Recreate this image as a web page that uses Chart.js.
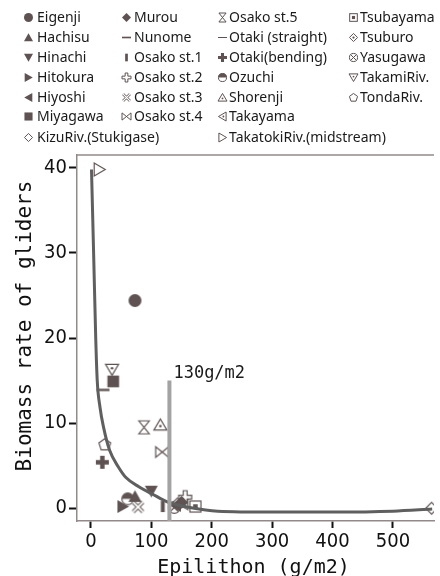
<!DOCTYPE html>
<html>
<head>
<meta charset="utf-8">
<script src="https://cdn.jsdelivr.net/npm/chart.js@4/dist/chart.umd.min.js"></script>
<style>
  html, body { margin: 0; padding: 0; background: #fff; overflow: hidden; }
  #wrap { position: relative; width: 440px; height: 576px; }
  #chart { position: absolute; left: 0; top: 0; }
  .lg { position: absolute; height: 20px; line-height: 20px; font: 14px 'Noto Sans', sans-serif; color: #1a1a1a; white-space: nowrap; }
  .lgi { position: absolute; }
</style>
</head>
<body>
<div id="wrap">
  <canvas id="chart" width="440" height="576"></canvas>
  <div id="legend"></div>
</div>
<script>
var INK = '#5e5252';

// sites, in legend order
var siteNames = ['Eigenji', 'Hachisu', 'Hinachi', 'Hitokura', 'Hiyoshi', 'Miyagawa', 'KizuRiv.(Stukigase)',
    'Murou', 'Nunome', 'Osako st.1', 'Osako st.2', 'Osako st.3', 'Osako st.4',
    'Osako st.5', 'Otaki (straight)', 'Otaki(bending)', 'Ozuchi', 'Shorenji', 'Takayama', 'TakatokiRiv.(midstream)',
    'Tsubayama', 'Tsuburo', 'Yasugawa', 'TakamiRiv.', 'TondaRiv.'];
var siteMarkers = ['circle', 'triUp', 'triDown', 'triRight', 'triLeft', 'square', 'diamondOpen',
    'diamond', 'dash', 'bar', 'plusOpen', 'xOpen', 'bowtie',
    'hourglass', 'line', 'plusFilled', 'halfCircle', 'triUpDot', 'triLeftDot', 'triRightOpen',
    'squareDot', 'diamondDot', 'circleX', 'triDownDot', 'pentagon'];
var epilithon = [73, 73, 100, 53, 140, 37, 564,
    150, 20, 119, 156, 78, 118,
    88, 146, 19, 61, 115, 152, 14,
    173, 143, 138, 35, 23];
var gliderRate = [24.4, 1.4, 2.0, 0.2, 0.35, 14.9, 0.0,
    0.7, 13.9, 0.2, 1.3, 0.15, 6.6,
    9.5, 0.3, 5.4, 1.1, 9.8, 0.6, 39.8,
    0.2, 0.5, 0.1, 16.3, 7.5];

// fitted curve
var curveX = [1, 4.5, 8, 10.5, 15, 21, 31, 45, 58, 80, 101, 128, 166, 210, 300, 400, 500, 565];
var curveY = [39.8, 30, 20, 15, 11.9, 9.5, 6.8, 4.9, 3.6, 2.5, 1.7, 0.7, 0.05, -0.35, -0.45, -0.45, -0.35, -0.1];

var thresholdX = 130;
var thresholdTop = 15;
var thresholdLabel = '130g/m2';

var xTicks = [0, 100, 200, 300, 400, 500];
var yTicks = [0, 10, 20, 30, 40];
var xTitle = 'Epilithon (g/m2)';
var yTitle = 'Biomass rate of gliders';

function makeIcon(kind, s) {
    var W = Math.ceil(s) + 4;
    var c = document.createElement('canvas');
    c.width = W; c.height = W;
    var g = c.getContext('2d');
    var m = W / 2, r = s / 2;
    g.fillStyle = INK; g.strokeStyle = INK;
    g.lineWidth = Math.max(1, s / 11);
    function poly(pts, fill, stroke) {
        g.beginPath();
        pts.forEach(function (p, i) {
            if (i) g.lineTo(m + p[0] * r, m + p[1] * r); else g.moveTo(m + p[0] * r, m + p[1] * r);
        });
        g.closePath();
        if (fill) { g.fillStyle = fill; g.fill(); }
        if (stroke) g.stroke();
    }
    function dot(rr) { g.beginPath(); g.arc(m, m, rr, 0, 2 * Math.PI); g.fillStyle = INK; g.fill(); }
    var plus = function (w) {
        return [[-w, -1], [w, -1], [w, -w], [1, -w], [1, w], [w, w], [w, 1], [-w, 1], [-w, w], [-1, w], [-1, -w], [-w, -w]];
    };
    switch (kind) {
        case 'circle': g.beginPath(); g.arc(m, m, r, 0, 2 * Math.PI); g.fill(); break;
        case 'triUp': poly([[-1, 0.85], [1, 0.85], [0, -0.95]], INK); break;
        case 'triDown': poly([[-1, -0.85], [1, -0.85], [0, 0.95]], INK); break;
        case 'triRight': poly([[-0.85, -1], [-0.85, 1], [0.95, 0]], INK); break;
        case 'triLeft': poly([[0.85, -1], [0.85, 1], [-0.95, 0]], INK); break;
        case 'square': g.fillRect(m - r * 0.9, m - r * 0.9, r * 1.8, r * 1.8); break;
        case 'diamond': poly([[0, -1], [1, 0], [0, 1], [-1, 0]], INK); break;
        case 'diamondOpen': poly([[0, -0.9], [0.9, 0], [0, 0.9], [-0.9, 0]], '#fff', true); break;
        case 'diamondDot': poly([[0, -0.9], [0.9, 0], [0, 0.9], [-0.9, 0]], '#fff', true); dot(r * 0.25); break;
        case 'dash': g.fillRect(m - r, m - r * 0.18, 2 * r, r * 0.36); break;
        case 'bar': g.fillRect(m - r * 0.3, m - r * 0.85, r * 0.6, r * 1.7); break;
        case 'plusOpen': poly(plus(0.3), '#fff', true); break;
        case 'plusFilled': poly(plus(0.34), INK); break;
        case 'xOpen':
            g.lineWidth = r * 0.6;
            g.beginPath(); g.moveTo(m - r * 0.75, m - r * 0.75); g.lineTo(m + r * 0.75, m + r * 0.75);
            g.moveTo(m + r * 0.75, m - r * 0.75); g.lineTo(m - r * 0.75, m + r * 0.75); g.stroke();
            g.lineWidth = r * 0.3; g.strokeStyle = '#fff'; g.stroke();
            break;
        case 'bowtie': poly([[-1, -0.8], [1, 0.8], [1, -0.8], [-1, 0.8]], '#fff', true); break;
        case 'hourglass': poly([[-0.8, -1], [0.8, -1], [-0.8, 1], [0.8, 1]], '#fff', true); break;
        case 'line':
            g.beginPath(); g.moveTo(m - r, m); g.lineTo(m + r, m); g.stroke(); break;
        case 'halfCircle':
            g.beginPath(); g.arc(m, m, r * 0.9, 0, 2 * Math.PI); g.fillStyle = '#fff'; g.fill(); g.stroke();
            g.beginPath(); g.arc(m, m, r * 0.9, Math.PI, 2 * Math.PI); g.closePath(); g.fillStyle = INK; g.fill();
            break;
        case 'triUpDot': poly([[-1, 0.8], [1, 0.8], [0, -0.9]], '#fff', true); g.translate(0, r * 0.2); dot(r * 0.2); break;
        case 'triDownDot': poly([[-1, -0.8], [1, -0.8], [0, 0.9]], '#fff', true); g.translate(0, -r * 0.2); dot(r * 0.2); break;
        case 'triLeftDot': poly([[0.8, -1], [0.8, 1], [-0.9, 0]], '#fff', true); g.translate(r * 0.2, 0); dot(r * 0.2); break;
        case 'triRightOpen': poly([[-0.8, -1], [-0.8, 1], [0.9, 0]], '#fff', true); break;
        case 'squareDot':
            g.fillStyle = '#fff'; g.fillRect(m - r * 0.85, m - r * 0.85, r * 1.7, r * 1.7);
            g.strokeRect(m - r * 0.85, m - r * 0.85, r * 1.7, r * 1.7);
            g.fillStyle = INK; g.fillRect(m - r * 0.35, m - r * 0.35, r * 0.7, r * 0.7);
            break;
        case 'circleX':
            g.beginPath(); g.arc(m, m, r * 0.9, 0, 2 * Math.PI); g.fillStyle = '#fff'; g.fill(); g.stroke();
            var k = r * 0.62;
            g.beginPath(); g.moveTo(m - k, m - k); g.lineTo(m + k, m + k); g.moveTo(m + k, m - k); g.lineTo(m - k, m + k); g.stroke();
            break;
        case 'pentagon':
            var pts = [];
            for (var i = 0; i < 5; i++) {
                var a = -Math.PI / 2 + i * 2 * Math.PI / 5;
                pts.push([Math.cos(a) * 0.95, Math.sin(a) * 0.95 + 0.05]);
            }
            poly(pts, '#fff', true);
            break;
    }
    return c;
}

// legend, drawn as html
var colIcon = [28, 126, 222, 353];
var colText = [37, 134, 229, 360];
var rowY = [17, 37, 57, 77, 97, 116, 137];
var slots = [[0, 0], [0, 1], [0, 2], [0, 3], [0, 4], [0, 5], [0, 6],
    [1, 0], [1, 1], [1, 2], [1, 3], [1, 4], [1, 5],
    [2, 0], [2, 1], [2, 2], [2, 3], [2, 4], [2, 5], [2, 6],
    [3, 0], [3, 1], [3, 2], [3, 3], [3, 4]];
var legendEl = document.getElementById('legend');
siteNames.forEach(function (name, i) {
    var col = slots[i][0], row = slots[i][1];
    var ic = makeIcon(siteMarkers[i], 9);
    ic.className = 'lgi';
    ic.style.left = (colIcon[col] - ic.width / 2) + 'px';
    ic.style.top = (rowY[row] - ic.height / 2) + 'px';
    legendEl.appendChild(ic);
    var t = document.createElement('div');
    t.className = 'lg';
    t.textContent = name;
    t.style.left = colText[col] + 'px';
    t.style.top = (rowY[row] - 10) + 'px';
    legendEl.appendChild(t);
});

var datasets = [];
siteNames.forEach(function (name, i) {
    datasets.push({
        label: name,
        data: [{ x: epilithon[i], y: gliderRate[i] }],
        pointStyle: makeIcon(siteMarkers[i], 13),
        pointRadius: 5,
        order: 3
    });
});
datasets.push({
    label: 'fit',
    type: 'line',
    data: curveX.map(function (x, i) { return { x: x, y: curveY[i] }; }),
    borderColor: '#5f5f5f',
    borderWidth: 3,
    pointRadius: 0,
    cubicInterpolationMode: 'monotone',
    fill: false,
    order: 2
});
datasets.push({
    label: 'threshold',
    type: 'line',
    data: [{ x: thresholdX, y: -1.5 }, { x: thresholdX, y: thresholdTop }],
    borderColor: '#a3a3a3',
    borderWidth: 4,
    pointRadius: 0,
    order: 1
});

var frame = {
    id: 'frame',
    afterDraw: function (chart) {
        var a = chart.chartArea, ctx = chart.ctx;
        ctx.save();
        ctx.strokeStyle = '#928a8a';
        ctx.lineWidth = 1.5;
        ctx.beginPath();
        ctx.moveTo(a.left, a.top); ctx.lineTo(a.right, a.top);
        ctx.stroke();
        var xs = chart.scales.x, ys = chart.scales.y;
        ctx.fillStyle = '#1a1a1a';
        ctx.font = "17px 'DejaVu Sans Mono', monospace";
        ctx.textBaseline = 'alphabetic';
        ctx.fillText(thresholdLabel, xs.getPixelForValue(thresholdX) + 4, ys.getPixelForValue(thresholdTop) - 3);
        // axis titles
        ctx.fillStyle = '#111';
        ctx.textAlign = 'center';
        ctx.font = "20px 'DejaVu Sans Mono', monospace";
        ctx.fillText(xTitle, (a.left + a.right) / 2 - 2, 573);
        ctx.translate(31, 326);
        ctx.rotate(-Math.PI / 2);
        ctx.font = "21px 'DejaVu Sans Mono', monospace";
        ctx.fillText(yTitle, 0, 0);
        ctx.restore();
    }
};

var tickFont = { family: "'Liberation Sans Narrow', 'DejaVu Sans Condensed', sans-serif", size: 20 };

var ctx = document.getElementById('chart').getContext('2d');
var chart = new Chart(ctx, {
    type: 'scatter',
    data: { datasets: datasets },
    options: {
        responsive: false,
        animation: false,
        events: [],
        layout: { padding: { top: 155, left: 0, right: 0, bottom: 0 } },
        plugins: { legend: { display: false }, tooltip: { enabled: false } },
        scales: {
            x: {
                type: 'linear',
                min: -23, max: 568,
                afterBuildTicks: function (s) { s.ticks = xTicks.map(function (v) { return { value: v }; }); },
                afterFit: function (s) { s.height = 55; },
                grid: { drawOnChartArea: false, drawTicks: true, tickLength: 7, tickColor: '#111', tickWidth: 2 },
                border: { color: '#928a8a', width: 1.5 },
                ticks: { color: '#111', font: tickFont, padding: 2, maxRotation: 0 },
                title: { display: false }
            },
            y: {
                type: 'linear',
                min: -1.5, max: 41.5,
                afterBuildTicks: function (s) { s.ticks = yTicks.map(function (v) { return { value: v }; }); },
                afterFit: function (s) { s.width = 77; },
                grid: { drawOnChartArea: false, drawTicks: true, tickLength: 8, tickColor: '#111', tickWidth: 2 },
                border: { color: '#928a8a', width: 1.5 },
                ticks: { color: '#111', font: tickFont, padding: 2 },
                title: { display: false }
            }
        }
    },
    plugins: [frame]
});
</script>
</body>
</html>
